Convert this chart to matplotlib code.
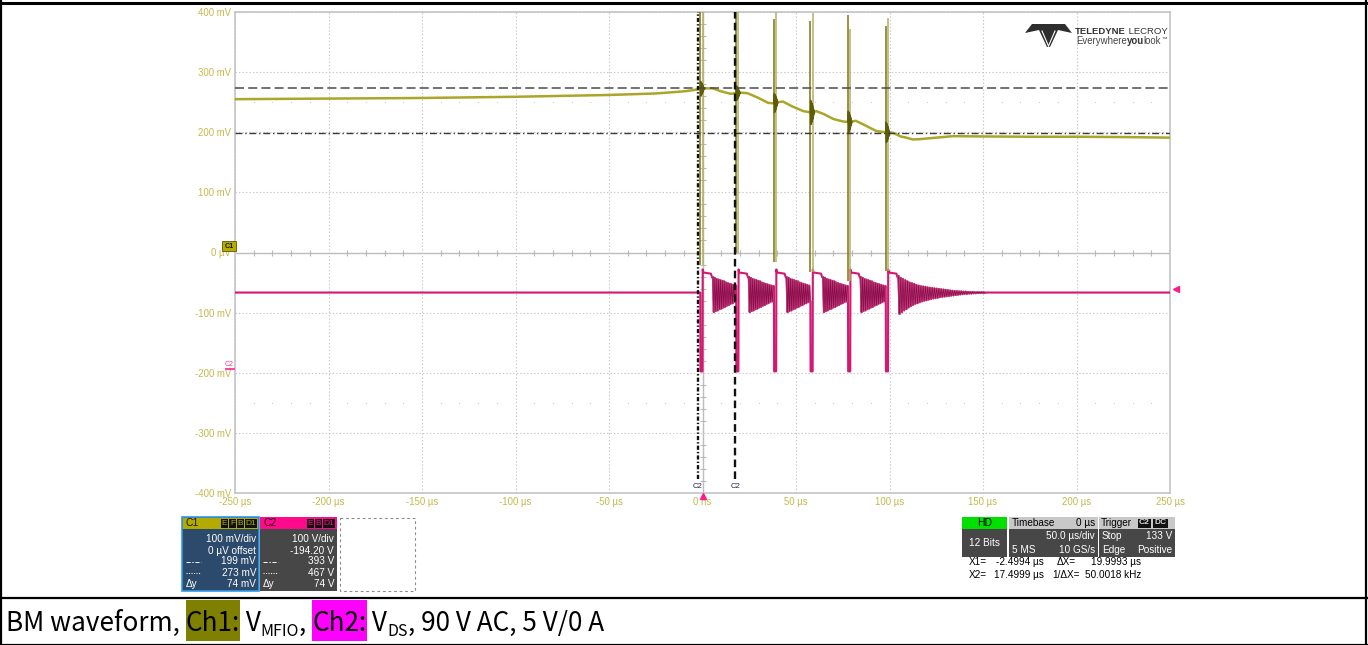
import matplotlib
matplotlib.use("Agg")
import matplotlib.pyplot as plt
import numpy as np
from matplotlib.patches import Rectangle, Polygon

plt.rcParams["lines.scale_dashes"] = False
plt.rcParams["font.family"] = ["Liberation Sans", "DejaVu Sans"]

W, H = 1368, 645

# axis ticks and labels
x_ticks_us = [-250, -200, -150, -100, -50, 0, 50, 100, 150, 200, 250]
x_tick_labels = ["-250 µs", "-200 µs", "-150 µs", "-100 µs", "-50 µs", "0 ns",
                 "50 µs", "100 µs", "150 µs", "200 µs", "250 µs"]
y_ticks_mv = [-400, -300, -200, -100, 0, 100, 200, 300, 400]
y_tick_labels = ["-400 mV", "-300 mV", "-200 mV", "-100 mV", "0 µV",
                 "100 mV", "200 mV", "300 mV", "400 mV"]

# C1: V_MFIO (mV), slow part of the trace
ch1_t_us = [-250, -225, -200, -175, -150, -125, -100, -75, -50, -25,
            -10, -5, 0, 5.5, 10, 15, 18, 20, 24, 30,
            35, 38, 40, 43, 48, 54, 58, 61, 65, 70,
            75, 78, 82, 86, 93, 98, 102, 106, 109, 112.5,
            116, 125, 134, 150, 175, 200, 225, 250]
ch1_mv = [255, 255.5, 256, 256.5, 257, 258, 259, 260.5, 262, 264.5,
          268, 270, 273, 273, 268, 264, 265, 266, 265, 257,
          249, 248, 250, 251, 243, 235, 233, 235, 230, 222,
          218, 217, 219, 213, 202, 200, 199, 193, 191, 188,
          188.5, 191, 193.5, 193, 192.5, 192.5, 192, 191]
# C1 spikes at each switching edge
ch1_spike_fall_top_mv = [400, 400, 388, 385, 395, 376]
ch1_spike_rise_top_mv = [400, 400, 400, 398, 372, 390]
ch1_spike_bottom_mv = [-20, 0, -15, -33, -48, -30]
ch1_ring_amp_mv = [12, 12, 16, 20, 18, 17]
ch1_ring_shape = [0, 1, -1, 0.9, -0.9, 0.75, -0.75, 0.6, -0.6, 0.4, -0.4, 0.2, -0.2, 0]

# C2: V_DS (V)
ch2_fall_us = [-1.2, 18.0, 38.2, 57.7, 77.8, 98.0]
ch2_rise_us = [0.0, 19.2, 39.4, 58.9, 79.0, 99.2]
ch2_base_v = 127.6
ch2_low_v = -3.5
ch2_peak_v = 166
ch2_flat_v = [161, 159]
ch2_flat_us = 4.5
ch2_step_v = 153
burst_ring_hi_v = [153, 152, 150, 149, 148, 147, 146, 144, 143, 142, 141, 140, 139, 138]
burst_ring_lo_v = [95, 97, 98, 100, 101, 103, 104, 106, 107, 109, 110, 112, 113, 114]
burst_ring_step_us = 0.5
tail_ring_hi_v = [155, 152, 150, 148, 146, 144, 143, 142, 140, 139, 138, 137.5, 137, 136,
                  135.5, 135, 134.5, 134, 133.5, 133, 132.5, 132, 131.5, 131, 130.5, 130,
                  130, 129.5, 129.5, 129, 129, 128.5, 128.5, 128.5, 128, 128, 128, 128, 127.8]
tail_ring_lo_v = [92, 95, 98, 100, 103, 105, 107, 109, 110, 111.5, 113, 114, 115, 116,
                  117, 118, 118.5, 119, 120, 120.5, 121, 121.5, 122, 122.5, 123, 123.5,
                  124, 124.5, 125, 125.5, 125.5, 126, 126, 126.5, 126.5, 127, 127, 127, 127.3]
tail_ring_step_us = 0.6
ch2_offset_v = -194.2
ch2_trigger_v = 133

# cursors
cursor_x_us = [-2.4994, 17.4999]
cursor_y_mv = [199, 273]

C1_COLOR = "#aba52a"
C2_COLOR = "#d4186f"
LABEL_COLOR = "#c3b94a"


def interleave(hi, lo):
    out = []
    for a, b in zip(hi, lo):
        out += [a, b]
    return out


def build_ch2():
    t, v = [-250.0], [ch2_base_v]
    rings = []
    n = len(ch2_fall_us)
    for i in range(n):
        f, r = ch2_fall_us[i], ch2_rise_us[i]
        t += [f, f + 0.1, r, r + 0.1, r + 0.4, r + ch2_flat_us, r + ch2_flat_us + 0.6]
        v += [v[-1], ch2_low_v, ch2_low_v, ch2_peak_v, ch2_flat_v[0], ch2_flat_v[1], ch2_step_v]
        start = r + ch2_flat_us + 1.1
        if i < n - 1:
            vals, step, stop = interleave(burst_ring_hi_v, burst_ring_lo_v), burst_ring_step_us, ch2_fall_us[i + 1]
        else:
            vals, step, stop = interleave(tail_ring_hi_v, tail_ring_lo_v), tail_ring_step_us, 250
        rt, rv = [], []
        for k, val in enumerate(vals):
            tk = start + k * step
            if tk >= stop:
                break
            rt.append(tk)
            rv.append(val)
        rings.append((rt, rv))
        t += rt
        v += rv
    t += [t[-1] + 1.0, 250.0]
    v += [ch2_base_v, ch2_base_v]
    return np.array(t), np.array(v), rings


fig = plt.figure(figsize=(W / 100, H / 100), dpi=100)
ax = fig.add_axes([235 / W, 1 - 493 / H, 935 / W, 481 / H])
ax.set_xlim(-250, 250)
ax.set_ylim(-400, 400)
ax.set_xticks(x_ticks_us, x_tick_labels)
ax.set_yticks(y_ticks_mv, y_tick_labels)
ax.tick_params(length=0, labelcolor=LABEL_COLOR, labelsize=6.9)
ax.tick_params(axis="y", pad=3)
ax.tick_params(axis="x", pad=3)
ax.grid(color="#c8c8c8", ls=(0, (1, 1.5)), lw=0.8)
for s in ax.spines.values():
    s.set_color("#c4c4c4")
    s.set_linewidth(1.2)

# centre cross with division marks
ax.axhline(0, color="#b8b8b8", lw=1.0, zorder=1)
ax.axvline(0, color="#b8b8b8", lw=1.0, zorder=1)
minor_x = [x for x in np.arange(-240, 250, 10) if x % 50 != 0]
minor_y = [y for y in np.arange(-380, 400, 20) if y % 100 != 0]
ax.plot(minor_x, np.zeros(len(minor_x)), ls="none", marker="|", ms=4, mew=0.8, color="#b8b8b8")
ax.plot(np.zeros(len(minor_y)), minor_y, ls="none", marker="_", ms=4, mew=0.8, color="#b8b8b8")
for yrow in (250, -250):
    ax.plot(minor_x, np.full(len(minor_x), yrow), ls="none", marker="s", ms=0.6, mew=0, color="#c4c4c4")

# C2 trace
t2, v2, rings = build_ch2()
ax.plot(t2, v2 + ch2_offset_v, color=C2_COLOR, lw=1.5, zorder=3)
for rt, rv in rings:
    ax.plot(rt, np.array(rv) + ch2_offset_v, color="#c63d7c", lw=1.6, zorder=4)
    ax.plot(rt, np.array(rv) + ch2_offset_v, color="#8a0e4c", lw=0.55, zorder=4.5)

# C1 trace
ax.plot(ch1_t_us, ch1_mv, color=C1_COLOR, lw=1.8, zorder=5)
ax.vlines(ch2_fall_us, ch1_spike_bottom_mv, ch1_spike_fall_top_mv, color="#78760f", lw=1.1, zorder=5)
ax.vlines(ch2_rise_us, ch1_spike_bottom_mv, ch1_spike_rise_top_mv, color="#b3af6a", lw=1.1, zorder=5)
for f, amp in zip(ch2_fall_us, ch1_ring_amp_mv):
    rt = [f + 0.16 * k for k in range(len(ch1_ring_shape))]
    base = np.interp(rt, ch1_t_us, ch1_mv)
    ax.plot(rt, base + amp * np.array(ch1_ring_shape), color="#5e5c08", lw=1.0, zorder=6)

# cursors
ax.axhline(cursor_y_mv[1], color="#4a4a4a", lw=1.1, ls=(0, (6.5, 3)), zorder=7)
ax.axhline(cursor_y_mv[0], color="#3a3a3a", lw=1.0, ls=(0, (5, 2, 1, 2)), zorder=7)
ax.axvline(cursor_x_us[0], ymin=0.03, color="#111111", lw=1.7, ls=(0, (3, 1.5, 1, 1.5)), zorder=7)
ax.axvline(cursor_x_us[1], ymin=0.03, color="#111111", lw=1.7, ls=(0, (5.5, 3)), zorder=7)
for cx in cursor_x_us:
    ax.text(cx, -389, "C2", ha="center", va="center", fontsize=5.5, color="#202040", zorder=8)

# trigger markers
ax.plot([0], [-405], marker="^", ms=5, color="#ff1a8c", clip_on=False, zorder=9)
ax.plot([253], [ch2_trigger_v + ch2_offset_v], marker="<", ms=5, color="#ff1a8c", clip_on=False, zorder=9)

# ---------------- pixel overlay ----------------
ax_px = fig.add_axes([0, 0, 1, 1])
ax_px.set_xlim(0, W)
ax_px.set_ylim(H, 0)
ax_px.axis("off")


def rect(x0, y0, x1, y1, fc, ec="none", lw=0, ls="solid"):
    ax_px.add_patch(Rectangle((x0, y0), x1 - x0, y1 - y0, facecolor=fc, edgecolor=ec, lw=lw, ls=ls))


def txt(x, y, s, ha="left", color="white", size=7.2, weight="normal"):
    return ax_px.text(x, y, s, ha=ha, va="center", color=color, fontsize=size, fontweight=weight)


# outer frame
ax_px.plot([0, W], [3, 3], color="black", lw=2.2)
ax_px.plot([1, 1], [0, H], color="black", lw=1.6)
ax_px.plot([1366, 1366], [0, H], color="black", lw=1.6)
ax_px.plot([0, W], [597.5, 597.5], color="black", lw=1.6)
ax_px.plot([0, W], [644.5, 644.5], color="black", lw=1.6)

# channel markers on the grid edge
rect(222, 241, 236, 251, "#b5ad00", ec="#5a5500", lw=0.6)
txt(229, 246, "C1", ha="center", color="#1a1a00", size=5.2, weight="bold")
txt(229, 364, "C2", ha="center", color="#ff3399", size=5)
ax_px.plot([226, 234], [369, 369], color="#ff3399", lw=1.3)

# logo
ax_px.add_patch(Polygon([(1025, 33), (1032, 24), (1065, 24), (1072, 33), (1058, 30),
                         (1050, 47), (1047, 47), (1039, 30)], closed=True, fc="#2e2e2e", ec="none"))
ax_px.plot([1042, 1048.5], [31, 46], color="white", lw=0.8)
ax_px.plot([1055, 1048.5], [31, 46], color="white", lw=0.8)

renderer = fig.canvas.get_renderer()


def chain(x, y, pieces, family=None, va="baseline"):
    spans = []
    for s, kw in pieces:
        opts = dict(ha="left", va=va, color="black")
        if family:
            opts["family"] = family
        opts.update(kw)
        dy = opts.pop("dy", 0)
        t = ax_px.text(x, y + dy, s, **opts)
        w = t.get_window_extent(renderer).width
        spans.append((x, x + w))
        x += w
    return spans


chain(1075, 33.5, [("TELEDYNE", dict(fontsize=6.8, fontweight="bold", color="#333333")),
                   (" LECROY", dict(fontsize=6.8, color="#333333"))])
chain(1076, 43.5, [("Everywhere", dict(fontsize=6.9, color="#444444")),
                   ("you", dict(fontsize=6.9, fontweight="bold", color="#333333")),
                   ("look", dict(fontsize=6.9, color="#444444")),
                   ("™", dict(fontsize=4, color="#444444", dy=-3))])

# C1 info box
rect(182, 517, 259, 591, "#2c4a6b", ec="#3399e6", lw=1.2)
rect(183, 518, 258, 529, "#b3ab00")
txt(186, 523.5, "C1", color="#1a1a00", size=7.5)
for x0, x1, s in [(221, 228, "E"), (229, 236, "F"), (237, 244, "B"), (245, 257, "D1")]:
    rect(x0, 519, x1, 528, "#111111")
    txt((x0 + x1) / 2, 523.5, s, ha="center", color="#b3ab00", size=6)
c1_lines = ["100 mV/div", "0 µV offset", "199 mV", "273 mV", "74 mV"]
c2_lines = ["100 V/div", "-194.20 V", "393 V", "467 V", "74 V"]
row_y = [539, 550.5, 561.5, 573, 584]
for s, y in zip(c1_lines, row_y):
    txt(256, y, s, ha="right")
ax_px.plot([186, 201], [561.5, 561.5], color="white", lw=0.7, ls=(0, (3, 1.2, 1, 1.2)))
ax_px.plot([186, 201], [573, 573], color="white", lw=0.7, ls=(0, (0.8, 1)))
txt(186, 584, "Δy")

# C2 info box
rect(260, 517, 337, 591, "#474747")
rect(260, 517, 337, 529, "#ff0a8a")
txt(263, 523.5, "C2", color="#330018", size=7.5)
for x0, x1, s in [(307, 314, "E"), (315, 322, "B"), (323, 335, "D1")]:
    rect(x0, 519, x1, 528, "#111111")
    txt((x0 + x1) / 2, 523.5, s, ha="center", color="#ff0a8a", size=6)
for s, y in zip(c2_lines, row_y):
    txt(334, y, s, ha="right")
ax_px.plot([263, 278], [561.5, 561.5], color="white", lw=0.7, ls=(0, (3, 1.2, 1, 1.2)))
ax_px.plot([263, 278], [573, 573], color="white", lw=0.7, ls=(0, (0.8, 1)))
txt(263, 584, "Δy")

# empty slot
rect(339.5, 517.5, 414.5, 590.5, "none", ec="#8c8c8c", lw=0.8, ls=(0, (2, 2)))

# acquisition boxes
rect(962, 517, 1007, 529, "#00e000")
txt(984.5, 523, "HD", ha="center", color="black", size=7.5)
rect(962, 529, 1007, 557, "#474747")
txt(984.5, 543, "12 Bits", ha="center")

rect(1009, 517, 1098, 529, "#c8c8c8")
txt(1012, 523, "Timebase", color="black")
txt(1095, 523, "0 µs", ha="right", color="black")
rect(1009, 529, 1098, 557, "#474747")
txt(1095, 536, "50.0 µs/div", ha="right")
txt(1012, 550, "5 MS")
txt(1095, 550, "10 GS/s", ha="right")

rect(1099, 517, 1175, 529, "#c8c8c8")
txt(1101, 523, "Trigger", color="black")
for x0, x1, s in [(1138, 1151, "C2"), (1153, 1168, "DC")]:
    rect(x0, 518.5, x1, 527.5, "#111111")
    txt((x0 + x1) / 2, 523, s, ha="center", color="#dddddd", size=6, weight="bold")
rect(1099, 529, 1175, 557, "#474747")
txt(1102, 536, "Stop")
txt(1172, 536, "133 V", ha="right")
txt(1102, 550, "Edge")
txt(1172, 550, "Positive", ha="right")

txt(969, 562, "X1=", color="black")
txt(1044, 562, "-2.4994 µs", ha="right", color="black")
txt(1057, 562, "ΔX=", color="black")
txt(1141, 562, "19.9993 µs", ha="right", color="black")
txt(969, 575, "X2=", color="black")
txt(1044, 575, "17.4999 µs", ha="right", color="black")
txt(1080, 575, "1/ΔX=", ha="right", color="black")
txt(1141, 575, "50.0018 kHz", ha="right", color="black")

# caption
cap = "Noto Sans CJK JP"
big = dict(fontsize=18.8)
sub = dict(fontsize=11.5, dy=4.5)
spans = chain(6, 631, [("BM waveform, ", big), ("Ch1:", big), (" V", big), ("MFIO", sub),
                       (", ", big), ("Ch2:", big), (" V", big), ("DS", sub),
                       (", 90 V AC, 5 V/0 A", big)], family=cap)
for idx, col in [(1, "#808000"), (5, "#ff00ff")]:
    x0, x1 = spans[idx]
    ax_px.add_patch(Rectangle((x0, 600), x1 - x0, 41, facecolor=col, edgecolor="none", zorder=0))

fig.savefig("out.png", dpi=100)
